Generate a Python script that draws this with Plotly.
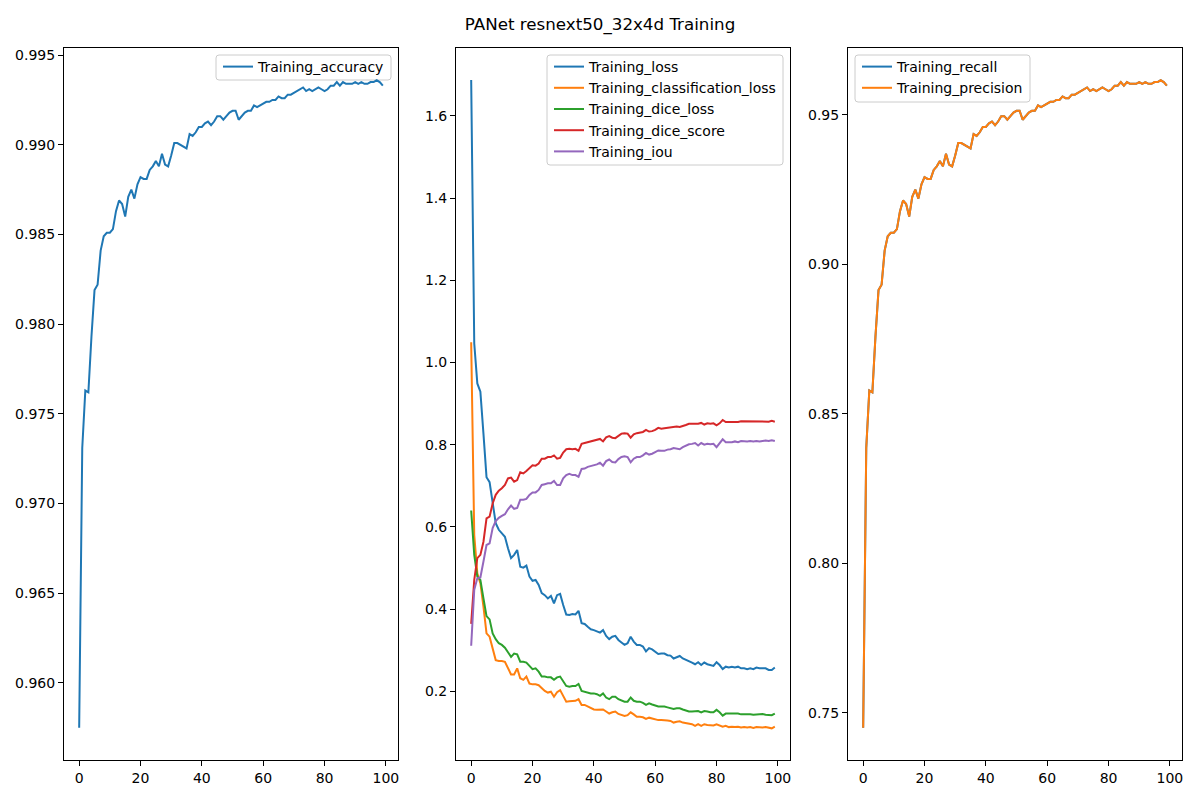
# PANet resnext50_32x4d - training curves (3 panels, matplotlib-style look)

import plotly.graph_objects as go

# ══════════════════════════════════════════════════════════════════════════════
# DATA  (epochs 0..99)
# ══════════════════════════════════════════════════════════════════════════════

epochs = list(range(100))

train_accuracy = [
    0.9575, 0.9731, 0.9763, 0.9762, 0.9793, 0.9819, 0.9822, 0.9841, 0.9849, 0.9851,
    0.9851, 0.9853, 0.9863, 0.9869, 0.9867, 0.9860, 0.9871, 0.9875, 0.9870, 0.9878,
    0.9882, 0.9881, 0.9881, 0.9886, 0.9888, 0.9891, 0.9888, 0.9895, 0.9889, 0.9888,
    0.9894, 0.9901, 0.9901, 0.9900, 0.9899, 0.9898, 0.9906, 0.9905, 0.9907, 0.9910,
    0.9910, 0.9912, 0.9913, 0.9911, 0.9913, 0.9916, 0.9916, 0.9914, 0.9916, 0.9918,
    0.9919, 0.9919, 0.9914, 0.9916, 0.9918, 0.9919, 0.9919, 0.9922, 0.9921, 0.9922,
    0.9923, 0.9924, 0.9924, 0.9925, 0.9925, 0.9927, 0.9926, 0.9926, 0.9928, 0.9928,
    0.9929, 0.9930, 0.9931, 0.9932, 0.9930, 0.9931, 0.9930, 0.9931, 0.9932, 0.9931,
    0.9930, 0.9931, 0.9933, 0.9933, 0.9935, 0.9933, 0.9935, 0.9934, 0.9934, 0.9934,
    0.9935, 0.9934, 0.9935, 0.9934, 0.9934, 0.9935, 0.9935, 0.9936, 0.9935, 0.9933,
]

train_loss = [
    1.687, 1.046, 0.949, 0.929, 0.827, 0.721, 0.709, 0.657, 0.609, 0.593,
    0.585, 0.576, 0.548, 0.524, 0.532, 0.544, 0.503, 0.501, 0.506, 0.479,
    0.469, 0.471, 0.459, 0.439, 0.434, 0.426, 0.432, 0.414, 0.434, 0.437,
    0.410, 0.387, 0.386, 0.388, 0.387, 0.396, 0.366, 0.364, 0.357, 0.351,
    0.349, 0.345, 0.343, 0.349, 0.335, 0.327, 0.333, 0.335, 0.325, 0.319,
    0.313, 0.317, 0.333, 0.321, 0.313, 0.313, 0.309, 0.297, 0.305, 0.302,
    0.297, 0.291, 0.292, 0.292, 0.288, 0.287, 0.280, 0.283, 0.286, 0.280,
    0.276, 0.272, 0.270, 0.266, 0.271, 0.264, 0.270, 0.266, 0.264, 0.262,
    0.271, 0.264, 0.254, 0.260, 0.258, 0.260, 0.258, 0.260, 0.256, 0.256,
    0.254, 0.256, 0.254, 0.258, 0.256, 0.256, 0.256, 0.252, 0.252, 0.258,
]

train_cls_loss = [
    1.049, 0.580, 0.487, 0.463, 0.406, 0.341, 0.333, 0.301, 0.276, 0.274,
    0.274, 0.272, 0.256, 0.241, 0.241, 0.256, 0.232, 0.228, 0.236, 0.219,
    0.217, 0.217, 0.215, 0.207, 0.201, 0.197, 0.199, 0.187, 0.198, 0.203,
    0.189, 0.175, 0.176, 0.177, 0.177, 0.181, 0.167, 0.167, 0.163, 0.159,
    0.156, 0.155, 0.155, 0.156, 0.151, 0.146, 0.149, 0.151, 0.145, 0.142,
    0.140, 0.142, 0.149, 0.144, 0.138, 0.138, 0.137, 0.133, 0.136, 0.134,
    0.132, 0.130, 0.130, 0.130, 0.129, 0.128, 0.124, 0.126, 0.127, 0.124,
    0.123, 0.122, 0.120, 0.116, 0.120, 0.116, 0.120, 0.118, 0.117, 0.117,
    0.120, 0.117, 0.114, 0.116, 0.113, 0.114, 0.113, 0.114, 0.112, 0.113,
    0.112, 0.113, 0.111, 0.113, 0.112, 0.112, 0.113, 0.111, 0.110, 0.114,
]

train_dice_loss = [
    0.640, 0.532, 0.479, 0.471, 0.426, 0.383, 0.375, 0.341, 0.327, 0.317,
    0.313, 0.306, 0.295, 0.284, 0.292, 0.290, 0.272, 0.272, 0.270, 0.262,
    0.254, 0.256, 0.248, 0.236, 0.236, 0.234, 0.234, 0.228, 0.234, 0.236,
    0.224, 0.213, 0.211, 0.213, 0.213, 0.218, 0.201, 0.199, 0.198, 0.195,
    0.195, 0.193, 0.189, 0.195, 0.185, 0.181, 0.187, 0.187, 0.181, 0.177,
    0.175, 0.175, 0.185, 0.177, 0.175, 0.175, 0.172, 0.167, 0.171, 0.168,
    0.165, 0.163, 0.163, 0.163, 0.161, 0.159, 0.157, 0.159, 0.159, 0.156,
    0.153, 0.151, 0.151, 0.151, 0.152, 0.149, 0.152, 0.151, 0.149, 0.149,
    0.155, 0.149, 0.141, 0.146, 0.146, 0.146, 0.145, 0.146, 0.144, 0.144,
    0.145, 0.144, 0.143, 0.144, 0.144, 0.145, 0.143, 0.142, 0.142, 0.146,
]

train_dice_score = [
    0.364, 0.471, 0.524, 0.532, 0.564, 0.621, 0.625, 0.657, 0.678, 0.688,
    0.694, 0.702, 0.718, 0.720, 0.710, 0.714, 0.733, 0.730, 0.736, 0.742,
    0.750, 0.749, 0.754, 0.766, 0.766, 0.770, 0.770, 0.774, 0.766, 0.768,
    0.781, 0.789, 0.790, 0.789, 0.790, 0.785, 0.802, 0.804, 0.806, 0.809,
    0.810, 0.812, 0.814, 0.808, 0.818, 0.821, 0.817, 0.816, 0.822, 0.827,
    0.828, 0.827, 0.817, 0.825, 0.828, 0.829, 0.831, 0.836, 0.832, 0.833,
    0.836, 0.841, 0.839, 0.840, 0.841, 0.843, 0.844, 0.844, 0.843, 0.845,
    0.848, 0.851, 0.851, 0.852, 0.851, 0.853, 0.849, 0.852, 0.851, 0.852,
    0.847, 0.852, 0.860, 0.855, 0.855, 0.855, 0.856, 0.855, 0.857, 0.857,
    0.856, 0.857, 0.856, 0.857, 0.856, 0.857, 0.857, 0.856, 0.858, 0.856,
]

train_iou = [
    0.311, 0.447, 0.475, 0.477, 0.516, 0.556, 0.560, 0.597, 0.614, 0.622,
    0.627, 0.631, 0.643, 0.652, 0.644, 0.646, 0.666, 0.666, 0.668, 0.678,
    0.684, 0.684, 0.690, 0.702, 0.704, 0.706, 0.706, 0.712, 0.702, 0.702,
    0.718, 0.726, 0.729, 0.726, 0.726, 0.722, 0.741, 0.742, 0.746, 0.748,
    0.750, 0.752, 0.756, 0.749, 0.760, 0.764, 0.758, 0.757, 0.765, 0.770,
    0.772, 0.770, 0.757, 0.766, 0.770, 0.770, 0.774, 0.780, 0.776, 0.778,
    0.782, 0.786, 0.785, 0.785, 0.788, 0.789, 0.792, 0.790, 0.789, 0.794,
    0.798, 0.801, 0.802, 0.804, 0.798, 0.804, 0.800, 0.802, 0.801, 0.802,
    0.794, 0.804, 0.813, 0.806, 0.806, 0.806, 0.808, 0.806, 0.809, 0.808,
    0.808, 0.809, 0.808, 0.809, 0.808, 0.809, 0.810, 0.809, 0.811, 0.809,
]

train_recall = [
    0.7450, 0.8386, 0.8578, 0.8572, 0.8758, 0.8914, 0.8932, 0.9046, 0.9094, 0.9106,
    0.9106, 0.9118, 0.9178, 0.9214, 0.9202, 0.9160, 0.9226, 0.9250, 0.9220, 0.9268,
    0.9292, 0.9286, 0.9286, 0.9316, 0.9328, 0.9346, 0.9328, 0.9370, 0.9334, 0.9328,
    0.9364, 0.9406, 0.9406, 0.9400, 0.9394, 0.9388, 0.9436, 0.9430, 0.9442, 0.9460,
    0.9460, 0.9472, 0.9478, 0.9466, 0.9478, 0.9496, 0.9496, 0.9484, 0.9496, 0.9508,
    0.9514, 0.9514, 0.9484, 0.9496, 0.9508, 0.9514, 0.9514, 0.9532, 0.9526, 0.9532,
    0.9538, 0.9544, 0.9544, 0.9550, 0.9550, 0.9562, 0.9556, 0.9556, 0.9568, 0.9568,
    0.9574, 0.9580, 0.9586, 0.9592, 0.9580, 0.9586, 0.9580, 0.9586, 0.9592, 0.9586,
    0.9580, 0.9586, 0.9598, 0.9598, 0.9610, 0.9598, 0.9610, 0.9604, 0.9604, 0.9604,
    0.9610, 0.9604, 0.9610, 0.9604, 0.9604, 0.9610, 0.9610, 0.9616, 0.9610, 0.9598,
]

# precision sits exactly on top of recall in the picture
train_precision = [
    0.7450, 0.8386, 0.8578, 0.8572, 0.8758, 0.8914, 0.8932, 0.9046, 0.9094, 0.9106,
    0.9106, 0.9118, 0.9178, 0.9214, 0.9202, 0.9160, 0.9226, 0.9250, 0.9220, 0.9268,
    0.9292, 0.9286, 0.9286, 0.9316, 0.9328, 0.9346, 0.9328, 0.9370, 0.9334, 0.9328,
    0.9364, 0.9406, 0.9406, 0.9400, 0.9394, 0.9388, 0.9436, 0.9430, 0.9442, 0.9460,
    0.9460, 0.9472, 0.9478, 0.9466, 0.9478, 0.9496, 0.9496, 0.9484, 0.9496, 0.9508,
    0.9514, 0.9514, 0.9484, 0.9496, 0.9508, 0.9514, 0.9514, 0.9532, 0.9526, 0.9532,
    0.9538, 0.9544, 0.9544, 0.9550, 0.9550, 0.9562, 0.9556, 0.9556, 0.9568, 0.9568,
    0.9574, 0.9580, 0.9586, 0.9592, 0.9580, 0.9586, 0.9580, 0.9586, 0.9592, 0.9586,
    0.9580, 0.9586, 0.9598, 0.9598, 0.9610, 0.9598, 0.9610, 0.9604, 0.9604, 0.9604,
    0.9610, 0.9604, 0.9610, 0.9604, 0.9604, 0.9610, 0.9610, 0.9616, 0.9610, 0.9598,
]

x_ticks = [0, 20, 40, 60, 80, 100]

# ══════════════════════════════════════════════════════════════════════════════
# PLOT
# ══════════════════════════════════════════════════════════════════════════════

C0, C1, C2, C3, C4 = '#1f77b4', '#ff7f0e', '#2ca02c', '#d62728', '#9467bd'
FONT = 'DejaVu Sans'

panels = [
    # (axis suffix, legend id, [(name, values, colour), ...])
    ('', 'legend', [('Training_accuracy', train_accuracy, C0)]),
    ('2', 'legend2', [('Training_loss', train_loss, C0),
                      ('Training_classification_loss', train_cls_loss, C1),
                      ('Training_dice_loss', train_dice_loss, C2),
                      ('Training_dice_score', train_dice_score, C3),
                      ('Training_iou', train_iou, C4)]),
    ('3', 'legend3', [('Training_recall', train_recall, C0),
                      ('Training_precision', train_precision, C1)]),
]

fig = go.Figure()

for suffix, leg, series in panels:
    for name, vals, col in series:
        fig.add_trace(go.Scatter(
            x=epochs, y=vals, name=name, mode='lines',
            line=dict(color=col, width=2),
            xaxis='x' + suffix, yaxis='y' + suffix,
            legend=leg, showlegend=True,
        ))

# page body has an 8px margin, so every pixel target is pulled back by 8
W, H = 1200, 800
OFF = 8


def px_x(px):
    return (px - OFF) / W


def px_y(py):
    return 1 - (py - OFF) / H


# axes boxes (page pixels)
x_dom = [(64, 398), (456, 790), (848, 1182)]
top_px, bottom_px = 48, 760

axis_common = dict(
    showline=True, linecolor='black', linewidth=1, mirror=True,
    ticks='outside', ticklen=5, tickwidth=1, tickcolor='black',
    showgrid=False, zeroline=False,
    tickfont=dict(family=FONT, size=14, color='black'),
    automargin=False,
)

y_cfg = [
    dict(range=[0.9557, 0.9954], tickvals=[0.960, 0.965, 0.970, 0.975, 0.980, 0.985, 0.990, 0.995],
         tickformat='.3f'),
    dict(range=[0.033, 1.765], tickvals=[0.2, 0.4, 0.6, 0.8, 1.0, 1.2, 1.4, 1.6],
         tickformat='.1f'),
    dict(range=[0.7342, 0.9724], tickvals=[0.75, 0.80, 0.85, 0.90, 0.95],
         tickformat='.2f'),
]

layout_axes = {}
for i, (suffix, _, _) in enumerate(panels):
    layout_axes['xaxis' + suffix] = dict(axis_common, domain=[px_x(x_dom[i][0]), px_x(x_dom[i][1])],
                                         range=[-4.95, 103.95], tickvals=x_ticks,
                                         anchor='y' + suffix)
    layout_axes['yaxis' + suffix] = dict(axis_common, domain=[px_y(bottom_px), px_y(top_px)],
                                         anchor='x' + suffix, **y_cfg[i])

# legend frames drawn as rounded boxes (matplotlib fancybox look)
legend_boxes = [(216, 55, 391, 80), (547, 55, 783, 165), (855, 55, 1030, 102)]
legend_left = [218, 549, 857]


def rounded_box(x0, y0, x1, y1, r=3):
    a0, a1 = px_x(x0), px_x(x1)
    b0, b1 = px_y(y1), px_y(y0)
    rx, ry = r / W, r / H
    return (f'M {a0 + rx},{b0} L {a1 - rx},{b0} Q {a1},{b0} {a1},{b0 + ry} '
            f'L {a1},{b1 - ry} Q {a1},{b1} {a1 - rx},{b1} '
            f'L {a0 + rx},{b1} Q {a0},{b1} {a0},{b1 - ry} '
            f'L {a0},{b0 + ry} Q {a0},{b0} {a0 + rx},{b0} Z')


# boxes sit under the traces; no curve crosses them in this figure
shapes = [
    dict(type='path', path=rounded_box(*b), xref='paper', yref='paper',
         line=dict(color='#cccccc', width=1), fillcolor='white',
         layer='below')
    for b in legend_boxes
]

legend_common = dict(
    bgcolor='rgba(0,0,0,0)', borderwidth=0,
    font=dict(family=FONT, size=14, color='black'),
    yanchor='top', y=px_y(51), xanchor='left', xref='paper', yref='paper',
    visible=True,
)

fig.update_layout(
    width=W, height=H,
    margin=dict(l=0, r=0, t=0, b=0),
    paper_bgcolor='white', plot_bgcolor='rgba(0,0,0,0)',
    showlegend=True,
    font=dict(family=FONT, size=14, color='black'),
    title=dict(text='PANet resnext50_32x4d Training', x=px_x(600), xanchor='center',
               y=px_y(24), yanchor='middle', xref='paper',
               font=dict(family=FONT, size=16.7, color='black')),
    legend=dict(legend_common, x=px_x(legend_left[0])),
    legend2=dict(legend_common, x=px_x(legend_left[1])),
    legend3=dict(legend_common, x=px_x(legend_left[2])),
    shapes=shapes,
    **layout_axes,
)

fig.write_html('out.html')
